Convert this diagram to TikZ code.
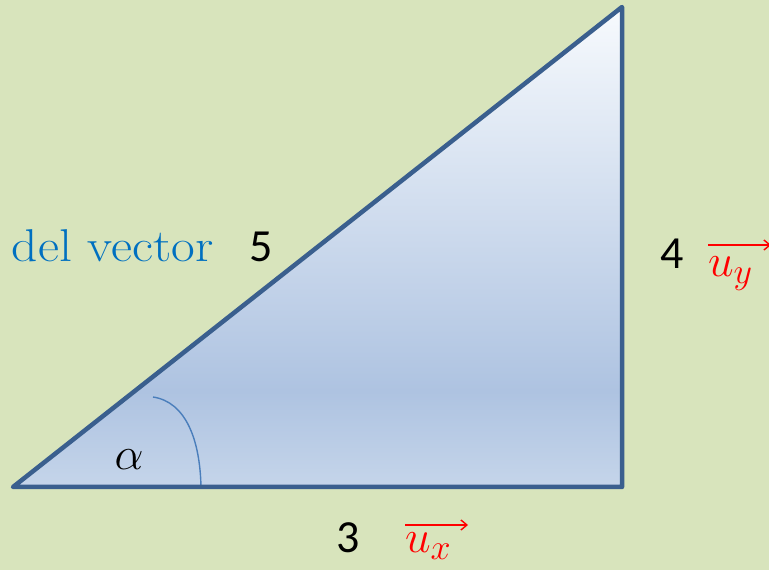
\RequirePackage{fix-cm}
\documentclass[tikz,border=0pt]{standalone}
\usepackage{fontspec}
\newfontfamily\calib{Carlito}
\usetikzlibrary{calc,arrows.meta}
\definecolor{bgc}{HTML}{D8E4BC}
\definecolor{edgec}{HTML}{3A5F8E}
\definecolor{txtblue}{HTML}{0070C0}
\definecolor{arcc}{HTML}{4A7EBB}
\definecolor{shbot}{HTML}{C5D5EA}
\definecolor{shmid}{HTML}{AEC3E1}
\definecolor{shtop}{HTML}{F7FAFD}
\pgfdeclareverticalshading{trishade}{100bp}{color(0bp)=(shbot); color(25bp)=(shbot); color(35bp)=(shmid); color(75bp)=(shtop); color(100bp)=(shtop)}
\newcommand{\subbig}[1]{\raisebox{-7pt}{\fontsize{36}{36}\selectfont$#1$}}
\tikzset{
  every node/.style={inner sep=0pt, outer sep=0pt},
  num/.style={font=\calib\fontsize{46}{52}\selectfont, text=black, anchor=base},
  vec/.style={font=\fontsize{46}{52}\selectfont, text=red, anchor=base west},
  vecarrow/.style={red, line width=1.6pt, -{Straight Barb[length=6pt,width=10pt,line width=1.4pt]}},
}
\begin{document}
\begin{tikzpicture}[x=1pt,y=1pt]
\useasboundingbox (0,0) rectangle (769,570);
\clip (0,0) rectangle (769,570);
\fill[bgc] (0,0) rectangle (769,570);
\coordinate (A) at (13,83);
\coordinate (B) at (622,83);
\coordinate (C) at (622,563);
\shade[shading=trishade] (A) -- (B) -- (C) -- cycle;
\coordinate (arcS) at (153,173);
\coordinate (arcE) at (201,83);
\draw[arcc, line width=1.4pt] (arcS) .. controls (186,168) and (200,130) .. (arcE);
\draw[edgec, line width=4.5pt, line join=round, line cap=round] (A) -- (B) -- (C) -- cycle;
\node[anchor=base west, font=\fontsize{46}{52}\selectfont, text=txtblue] (dv) at (12,308) {\scalebox{1.12}[1]{del vector}};
\node[num] (n5) at (261,308) {5};
\node[num] (n4) at (672,301) {4};
\node[num] (n3) at (348,17) {3};
\node[vec] (ux) at (405,17) {$u$\subbig{x}};
\node[vec] (uy) at (708,293) {$u$\subbig{y}};
\coordinate (uxa0) at (405,45);
\coordinate (uxa1) at (468,45);
\coordinate (uya0) at (708,325);
\coordinate (uya1) at (771,325);
\draw[vecarrow] (uxa0) -- (uxa1);
\draw[vecarrow] (uya0) -- (uya1);
\node[anchor=base, font=\fontsize{46}{52}\selectfont] (al) at (129,100) {$\alpha$};
\end{tikzpicture}
\end{document}
